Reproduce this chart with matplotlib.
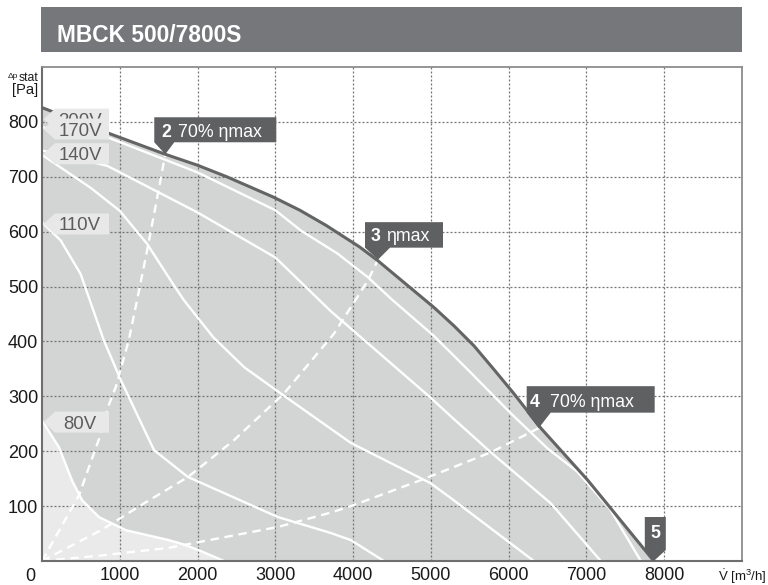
import matplotlib
matplotlib.use('Agg')
import matplotlib.pyplot as plt
import matplotlib.transforms as mtransforms
from matplotlib.patches import Polygon, Rectangle
from matplotlib import font_manager

DPI = 100
W, H = 768, 585

# curves (flow m3/h, static pressure Pa)
flow_200 = [0, 880, 1585, 2000, 2376, 2974, 3316, 3658, 4085, 4319, 5039, 5300, 5554, 5810, 6067,
            6414, 7018, 7866]
pres_200 = [826, 778, 741, 721, 700, 663, 639, 611, 572, 547, 462, 428, 392, 349, 305,
            242, 147, 0]

flow_170 = [0, 859, 2000, 3000, 3329, 3800, 4190, 4486, 5039, 5500, 6021, 6500, 6880, 7300, 7700]
pres_170 = [790, 771, 708, 639, 602, 560, 517, 478, 410, 345, 270, 205, 163, 95, 0]

flow_155 = [0, 838, 2000, 3000, 3714, 4993, 5253, 5771, 6542, 7185]
pres_155 = [748, 720, 635, 553, 455, 298, 264, 198, 105, 0]

flow_140 = [0, 624, 1000, 1350, 1692, 1825, 2200, 2600, 3072, 3972, 4993, 5253, 6324]
pres_140 = [740, 680, 638, 578, 503, 475, 408, 353, 305, 215, 142, 115, 0]

flow_110 = [0, 240, 496, 795, 1015, 1440, 1877, 3034, 3714, 3972, 4396]
pres_110 = [617, 584, 523, 402, 329, 202, 153, 80, 51, 38, 0]

flow_80 = [0, 219, 385, 514, 733, 1080, 1632, 1825, 2044, 2340]
pres_80 = [256, 207, 147, 111, 80, 56, 38, 30, 18, 0]

# system curves (dashed)
sys2_flow = [0, 476, 740, 848, 951, 1115, 1222, 1350, 1457, 1585]
sys2_pres = [0, 120, 225, 280, 318, 402, 475, 565, 644, 741]
sys3_flow = [0, 758, 1311, 1877, 2467, 3110, 3753, 4190, 4320]
sys3_pres = [0, 56, 105, 153, 220, 305, 414, 511, 549]
sys4_flow = [0, 758, 1632, 3034, 3708, 3972, 4865, 5771, 6386]
sys4_pres = [0, 10, 24, 62, 88, 100, 147, 198, 242]

# operating point badges
badge_flow = [1585, 4320, 6386, 7866]
badge_pres = [741, 549, 242, 0]
badge_num = ['2', '3', '4', '5']
badge_txt = ['70% ηmax', 'ηmax', '70% ηmax', '']

# voltage labels at the left edge
volt_names = ['200V', '170V', '140V', '110V', '80V']
volt_pres = [805, 787, 742, 614, 253]

x_ticks = [1000, 2000, 3000, 4000, 5000, 6000, 7000, 8000]
y_ticks = [100, 200, 300, 400, 500, 600, 700, 800]

names = {f.name for f in font_manager.fontManager.ttflist}
plt.rcParams['font.family'] = ['Liberation Sans', 'DejaVu Sans']
plt.rcParams['mathtext.fontset'] = 'custom'
plt.rcParams['mathtext.rm'] = 'Liberation Sans'

fig = plt.figure(figsize=(W / DPI, H / DPI), dpi=DPI)
ax = fig.add_axes([42 / W, 24 / H, 700 / W, 494 / H])
ax.set_xlim(0, 9000)
ax.set_ylim(0, 900)

fill_dark = '#d3d4d4'
fill_light = '#eaeaea'
ax.fill_between(flow_200, pres_200, 0, color=fill_dark, lw=0, zorder=0.8)
ax.fill_between(flow_80, pres_80, 0, color=fill_light, lw=0, zorder=0.9)

ax.set_xticks(x_ticks)
ax.set_yticks(y_ticks)
ax.grid(True, color='#747474', lw=0.9, ls=(0, (1.6, 1.6)))
ax.tick_params(length=0, labelsize=13, colors='#1a1a1a')
ax.tick_params(axis='y', pad=2.8)
ax.tick_params(axis='x', pad=4.2)
for s in ['left', 'bottom']:
    ax.spines[s].set_color('#6e6e6e')
    ax.spines[s].set_linewidth(1.5)
for s in ['top', 'right']:
    ax.spines[s].set_color('#8c8c8c')
    ax.spines[s].set_linewidth(1.3)

wl = 1.7
for fx, fy in [(flow_170, pres_170), (flow_155, pres_155), (flow_140, pres_140),
               (flow_110, pres_110), (flow_80, pres_80)]:
    ax.plot(fx, fy, color='white', lw=wl, solid_joinstyle='round', zorder=2)
for fx, fy in [(sys2_flow, sys2_pres), (sys3_flow, sys3_pres), (sys4_flow, sys4_pres)]:
    ax.plot(fx, fy, color='white', lw=wl, dashes=(3.6, 2.4), zorder=2.1)
ax.plot(flow_200, pres_200, color='#646464', lw=2.2, solid_joinstyle='round', zorder=3)


def px_at(x, y):
    return (mtransforms.Affine2D().scale(1 / DPI) + fig.dpi_scale_trans
            + mtransforms.ScaledTranslation(x, y, ax.transData))


# voltage labels (light boxes pointing left), later ones drawn over earlier ones
for i, (name, p) in enumerate(zip(volt_names, volt_pres)):
    z = 4 + 0.1 * i
    shape = [(1.5, 0), (13, 10.5), (67, 10.5), (67, -10.5), (13, -10.5)]
    ax.add_patch(Polygon(shape, closed=True, transform=px_at(0, p), facecolor='#e8e8e8',
                         edgecolor='none', zorder=z, clip_on=False))
    ax.annotate(name, (0, p), xytext=(38, 0), textcoords='offset pixels', ha='center',
                va='center_baseline', fontsize=13.4, color='#5c5c5c', zorder=z + 0.05)

# operating point badges
shapes = [
    [(0, 0), (-11, 12), (-11, 37), (111, 37), (111, 12), (9, 12)],
    [(0, 0), (-13, 12), (-13, 37.5), (65, 37.5), (65, 12), (12, 12)],
    [(0, 0), (-12, 15.5), (-12, 42), (116, 42), (116, 15.5), (12, 15.5)],
    [(0, 0), (-9, 11), (-9, 44), (12, 44), (12, 11)],
]
num_pos = [(-3.5, 17), (-7.5, 18.5), (-8.5, 21), (-3.5, 22.5)]
txt_pos = [(12.7, 17), (7.7, 18.5), (11.7, 21), (0, 0)]
for bx, by, num, txt, shp, npos, tpos in zip(badge_flow, badge_pres, badge_num, badge_txt,
                                             shapes, num_pos, txt_pos):
    ax.add_patch(Polygon(shp, closed=True, transform=px_at(bx, by), facecolor='#5f6062',
                         edgecolor='none', zorder=5, clip_on=False))
    ax.annotate(num, (bx, by), xytext=npos, textcoords='offset pixels', ha='left',
                va='baseline', fontsize=12.8, fontweight='bold', color='white', zorder=6,
                annotation_clip=False)
    if txt:
        ax.annotate(txt, (bx, by), xytext=tpos, textcoords='offset pixels', ha='left',
                    va='baseline', fontsize=12.8, color='white', zorder=6,
                    annotation_clip=False)

# origin label sits left of the corner
ax.annotate('0', (0, 0), xytext=(-12, -15.5), textcoords='offset pixels', ha='center',
            va='center', fontsize=13, color='#1a1a1a', annotation_clip=False)

# axis titles
fig.text(18.5 / W, 1 - 77.5 / H, 'Δp', fontsize=6, ha='right', va='baseline', color='#1a1a1a')
fig.text(18.5 / W, 1 - 81.5 / H, 'stat', fontsize=8.8, ha='left', va='baseline', color='#1a1a1a')
fig.text(38 / W, 1 - 94 / H, '[Pa]', fontsize=10.6, ha='right', va='baseline', color='#1a1a1a')
fig.text(767 / W, 1 - 581 / H, r'$\dot{\mathrm{V}}$ [m$^3$/h]', fontsize=9.5, ha='right',
         va='baseline', color='#1a1a1a')

# title bar
fig.add_artist(Rectangle((41 / W, 1 - 52 / H), 701 / W, 45 / H, transform=fig.transFigure,
                         facecolor='#76777a', edgecolor='none'))
if 'Liberation Sans Narrow' in names:
    tfam, tsize = 'Liberation Sans Narrow', 19.7
else:
    tfam, tsize = 'Liberation Sans', 16.4
fig.text(57 / W, 1 - 41.7 / H, 'MBCK 500/7800S', family=tfam, fontsize=tsize,
         fontweight='bold', color='white', ha='left', va='baseline')

fig.savefig('out.png', dpi=DPI)
